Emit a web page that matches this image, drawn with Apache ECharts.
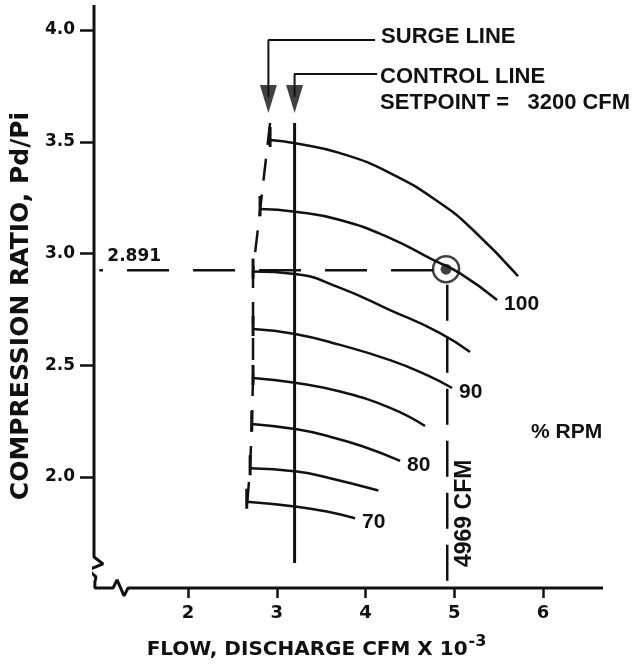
<!DOCTYPE html>
<html><head><meta charset="utf-8">
<script src="https://cdn.jsdelivr.net/npm/echarts@6/dist/echarts.min.js"></script>
<style>html,body{margin:0;padding:0;background:#fff}#c{width:641px;height:664px}</style>
</head><body><div id="c"></div>
<script>
// ---- data ----
const xTicks = [2, 3, 4, 5, 6];
const yTicks = [2.0, 2.5, 3.0, 3.5, 4.0];
const rpmLabels = ['', '100', '', '90', '', '80', '', '70'];
const rpm105 = [[2.924,3.508],[3.206,3.493],[3.713,3.449],[4.276,3.360],[4.839,3.226],[5.211,3.105],[5.718,2.899]];
const rpm100 = [[2.811,3.199],[3.206,3.187],[3.713,3.150],[4.276,3.069],[4.761,2.971],[5.065,2.911],[5.482,2.792]];
const rpm95  = [[2.732,2.919],[3.206,2.908],[3.713,2.846],[4.276,2.747],[4.839,2.644],[5.177,2.559]];
const rpm90  = [[2.732,2.662],[3.206,2.640],[3.713,2.591],[4.276,2.523],[4.693,2.456],[4.975,2.398]];
const rpm85  = [[2.732,2.443],[3.206,2.422],[3.713,2.382],[4.276,2.309],[4.670,2.228]];
const rpm80  = [[2.718,2.237],[3.225,2.213],[3.600,2.180],[3.972,2.136],[4.389,2.072]];
const rpm75  = [[2.699,2.039],[3.225,2.024],[3.600,1.994],[4.144,1.939]];
const rpm70  = [[2.661,1.889],[3.225,1.867],[3.563,1.845],[3.882,1.815]];
const surgeLine = [[2.924,3.584],[2.732,2.922],[2.732,2.443],[2.718,2.237],[2.699,2.039],[2.661,1.861]];
const controlLine = [[3.2,3.584],[3.2,1.615]];
const surgeLeader = [[2.905,3.70],[2.905,3.955],[4.107,3.955]];
const controlLeader = [[3.2,3.70],[3.2,3.803],[4.13,3.803]];
const arrowTips = [[2.905,3.629],[3.2,3.629]];
const setpoint = [[4.907,2.93]];
const setpointH = [[4.76,2.925],[1.0,2.925]];
const setpointV = [[4.92,2.86],[4.92,1.503]];
const axisPath = [[0.94,4.112],[0.94,1.642],[1.042,1.611],[0.873,1.584],[0.962,1.553],[0.95,1.53],[0.95,1.503],[1.155,1.503],[1.2,1.539],[1.279,1.468],[1.324,1.503],[6.675,1.503]];
const setpointText = '2.891';
const flowText = '4969 CFM';

// ---- chart ----
const ink = '#111';
const arial = "'Liberation Sans', Arial, sans-serif";
const dejavu = "'DejaVu Sans', sans-serif";
const chart = echarts.init(document.getElementById('c'), null, {renderer: 'canvas'});
const curves = [rpm105, rpm100, rpm95, rpm90, rpm85, rpm80, rpm75, rpm70];
const series = [];
series.push({type: 'line', data: axisPath, symbol: 'none', clip: false, silent: true,
  lineStyle: {color: ink, width: 3}, z: 2});
curves.forEach((d, i) => series.push({
  type: 'line', data: d, smooth: 0.5, silent: true,
  symbol: 'rect', showSymbol: true,
  symbolSize: (v, p) => p.dataIndex === 0 ? [3, 20] : 0, symbolOffset: [0, -3],
  itemStyle: {color: ink}, lineStyle: {color: ink, width: 2.5},
  endLabel: {show: !!rpmLabels[i], formatter: rpmLabels[i], distance: 7, offset: [0, 4],
    color: ink, fontFamily: arial, fontWeight: 'bold', fontSize: 21},
  z: 3
}));
series.push({type: 'line', data: surgeLine, symbol: 'none', silent: true,
  lineStyle: {color: ink, width: 2.5, type: [22, 14]}, z: 3});
series.push({type: 'line', data: controlLine, symbol: 'none', silent: true,
  lineStyle: {color: ink, width: 3}, z: 3});
series.push({type: 'line', data: surgeLeader, symbol: 'none', silent: true,
  lineStyle: {color: ink, width: 2},
  endLabel: {show: true, formatter: 'SURGE LINE', distance: 6, offset: [0, -3],
    color: ink, fontFamily: arial, fontWeight: 'bold', fontSize: 22}, z: 3});
series.push({type: 'line', data: controlLeader, symbol: 'none', silent: true,
  lineStyle: {color: ink, width: 2},
  endLabel: {show: true, formatter: 'CONTROL LINE\nSETPOINT =   3200 CFM', distance: 3, offset: [0, 16],
    lineHeight: 26, color: ink, fontFamily: arial, fontWeight: 'bold', fontSize: 22}, z: 3});
series.push({type: 'scatter', data: arrowTips, silent: true,
  symbol: 'path://M0,0L20,0L10,32Z', symbolSize: [17, 28], symbolOffset: [0, '-50%'],
  itemStyle: {color: ink}, z: 4});
series.push({type: 'line', data: setpointH, symbol: 'none', silent: true,
  lineStyle: {color: ink, width: 2.5, type: [42, 24]},
  endLabel: {show: true, formatter: setpointText, distance: 0, offset: [8, -14],
    color: ink, fontFamily: dejavu, fontWeight: 'bold', fontSize: 17}, z: 3});
series.push({type: 'line', data: setpointV, symbol: 'none', silent: true,
  lineStyle: {color: ink, width: 2.5, type: [36, 16]},
  endLabel: {show: true, formatter: flowText, distance: 0, rotate: 90, align: 'left', verticalAlign: 'middle',
    offset: [21, 17], color: ink, fontFamily: arial, fontWeight: 'bold', fontSize: 23}, z: 3});
series.push({type: 'scatter', data: setpoint, silent: true, symbol: 'circle', symbolSize: 26,
  itemStyle: {color: 'rgba(0,0,0,0)', borderColor: ink, borderWidth: 2.5}, z: 5});
series.push({type: 'scatter', data: setpoint, silent: true, symbol: 'circle', symbolSize: 11,
  itemStyle: {color: ink}, z: 5});

chart.setOption({
  animation: false,
  backgroundColor: '#fff',
  title: {text: '% RPM', left: 531, top: 422, padding: 0,
    textStyle: {color: ink, fontFamily: arial, fontWeight: 'bold', fontSize: 21}},
  grid: {left: 94, right: 38, top: 5, bottom: 76, outerBoundsMode: 'none', containLabel: false},
  xAxis: {type: 'value', min: 0.94, max: 6.675,
    axisLine: {show: false}, splitLine: {show: false},
    axisTick: {show: true, customValues: xTicks, length: 10, lineStyle: {color: ink, width: 2.5}},
    axisLabel: {customValues: xTicks, margin: 16, color: ink, fontFamily: dejavu, fontWeight: 'bold', fontSize: 18},
    name: '{a|FLOW, DISCHARGE CFM X 10}{s|-3}', nameLocation: 'middle', nameGap: 46,
    nameTextStyle: {padding: [0, 64, 0, 0],
      rich: {a: {color: ink, fontFamily: dejavu, fontWeight: 'bold', fontSize: 20, lineHeight: 26, verticalAlign: 'bottom'},
             s: {color: ink, fontFamily: dejavu, fontWeight: 'bold', fontSize: 16, lineHeight: 26, verticalAlign: 'top', padding: [0, 0, 0, 1]}}}
  },
  yAxis: {type: 'value', min: 1.503, max: 4.112,
    axisLine: {show: false}, splitLine: {show: false},
    axisTick: {show: true, customValues: yTicks, length: 14, lineStyle: {color: ink, width: 2.5}},
    axisLabel: {customValues: yTicks, margin: 19, formatter: v => v.toFixed(1),
      color: ink, fontFamily: dejavu, fontWeight: 'bold', fontSize: 17},
    name: 'COMPRESSION RATIO, Pd/Pi', nameLocation: 'middle', nameGap: 56,
    nameTextStyle: {color: ink, fontFamily: dejavu, fontWeight: 'bold', fontSize: 25, padding: [0, 19, 0, 0]}
  },
  series: series
});
</script></body></html>
